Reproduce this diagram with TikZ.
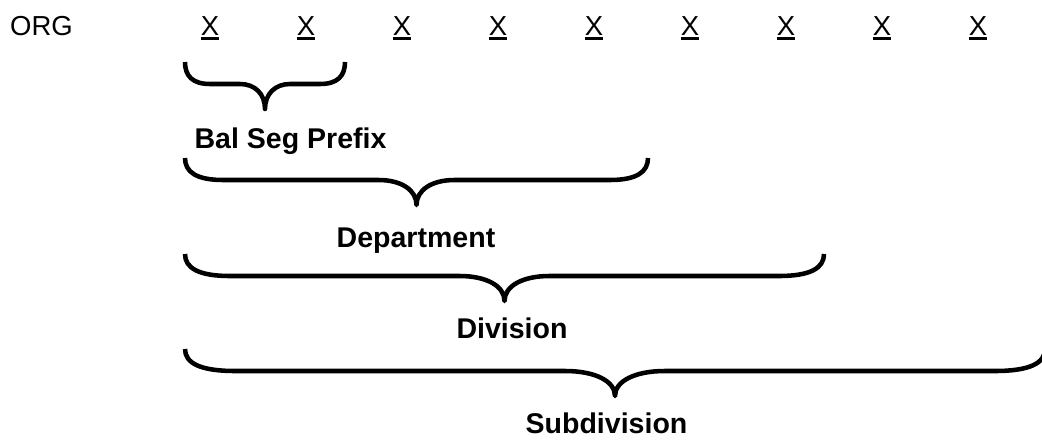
\documentclass[tikz,border=0pt]{standalone}
\usepackage{fontspec}
\setmainfont{Liberation Sans}
\usepackage{tikz}
\usetikzlibrary{positioning,calc}

\newcommand{\ulchar}[1]{\setbox0\hbox{#1}\rlap{\rule[-3.7pt]{\wd0}{2pt}}\box0}

\begin{document}
\begin{tikzpicture}[
  x=0.75pt, y=-0.75pt,
  digit/.style={anchor=base, inner sep=0pt, font=\fontsize{20.6}{24}\selectfont},
  segname/.style={anchor=base, inner sep=0pt, font=\fontsize{21.4}{25}\selectfont\bfseries},
  curly/.style={line width=3.4pt, line join=round}
]
\useasboundingbox (0,0) rectangle (1042,439);

\node[digit] (org) at (41.5,35) {ORG};
\node[digit] (x1) at (210,35) {\ulchar{X}};
\node[digit] (x2) at (306,35) {\ulchar{X}};
\node[digit] (x3) at (402,35) {\ulchar{X}};
\node[digit] (x4) at (498,35) {\ulchar{X}};
\node[digit] (x5) at (594,35) {\ulchar{X}};
\node[digit] (x6) at (690,35) {\ulchar{X}};
\node[digit] (x7) at (786,35) {\ulchar{X}};
\node[digit] (x8) at (882,35) {\ulchar{X}};
\node[digit] (x9) at (978,35) {\ulchar{X}};

% braces: left/right/top/curve width
\foreach \bl/\br/\bt/\bc in {185/345/62/25, 185/648/158/38, 185/824/254/45, 185/1045/349/50} {
  \draw[curly] (\bl,\bt) .. controls (\bl,\bt+14) and (\bl+0.3*\bc,\bt+22) .. (\bl+\bc,\bt+22)
    -- ({(\bl+\br)/2-\bc},\bt+22) .. controls ({(\bl+\br)/2-0.4*\bc},\bt+22) and ({(\bl+\br)/2},\bt+32) .. ({(\bl+\br)/2},\bt+47)
    .. controls ({(\bl+\br)/2},\bt+32) and ({(\bl+\br)/2+0.4*\bc},\bt+22) .. ({(\bl+\br)/2+\bc},\bt+22)
    -- (\br-\bc,\bt+22) .. controls (\br-0.3*\bc,\bt+22) and (\br,\bt+14) .. (\br,\bt);
}

\node[segname] (prefix) at (290.5,148) {Bal Seg Prefix};
\node[segname] (dept) at (416,247) {Department};
\node[segname] (div) at (512,338) {Division};
\node[segname] (subdiv) at (606.5,433) {Subdivision};
\end{tikzpicture}
\end{document}
